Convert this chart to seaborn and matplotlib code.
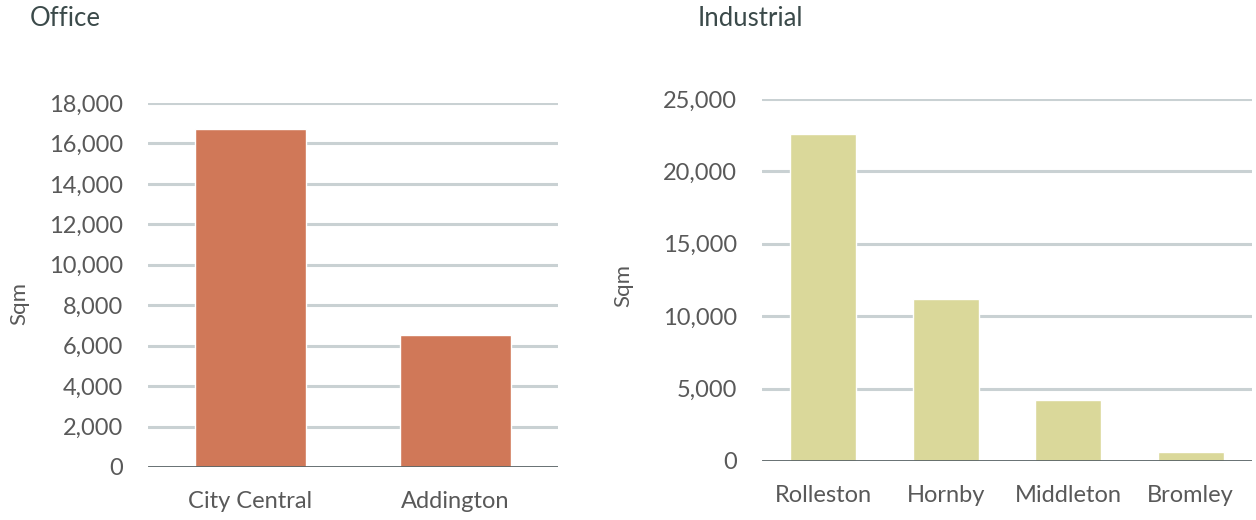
import matplotlib
matplotlib.use("Agg")
import matplotlib.pyplot as plt
import seaborn as sns
import pandas as pd
from matplotlib.ticker import FuncFormatter

office_categories = ["City Central", "Addington"]
office_values = [16700, 6550]
industrial_categories = ["Rolleston", "Hornby", "Middleton", "Bromley"]
industrial_values = [22600, 11200, 4200, 600]
office_ticks = list(range(0, 18001, 2000))
industrial_ticks = list(range(0, 25001, 5000))

sns.set_theme(style="white")
plt.rcParams['font.family'] = ['Lato', 'DejaVu Sans']

fig = plt.figure(figsize=(12.56, 5.2), dpi=100)
text_color = "#595959"
grid_color = "#C9D1D3"
base_color = "#5A6466"
title_color = "#3B4A4A"

def style(ax, ticks, ylim):
    ax.set_ylim(0, ylim)
    ax.set_yticks(ticks)
    ax.yaxis.set_major_formatter(FuncFormatter(lambda v, p: f"{int(v):,}"))
    for t in ticks[1:]:
        ax.axhline(t, color=grid_color, lw=2.2, zorder=0)
    ax.axhline(0, color=base_color, lw=2, zorder=3)
    for s in ax.spines.values():
        s.set_visible(False)
    ax.tick_params(axis="both", length=0, labelsize=17, colors=text_color)
    ax.tick_params(axis="y", pad=18)
    ax.tick_params(axis="x", pad=17)
    ax.set_xlabel("")
    ax.set_ylabel("Sqm", fontsize=16, color=text_color)

ax1 = fig.add_axes([0.1178, 0.102, 0.3265, 0.700])
df1 = pd.DataFrame({"cat": office_categories, "val": office_values})
sns.barplot(data=df1, x="cat", y="val", color="#D07858", saturation=1, width=0.54, ax=ax1, zorder=2)
style(ax1, office_ticks, 18000)
ax1.yaxis.set_label_coords(-0.29, 0.45)

ax2 = fig.add_axes([0.6067, 0.1135, 0.390, 0.696])
df2 = pd.DataFrame({"cat": industrial_categories, "val": industrial_values})
sns.barplot(data=df2, x="cat", y="val", color="#DAD89A", saturation=1, width=0.54, ax=ax2, zorder=2)
style(ax2, industrial_ticks, 25000)
ax2.yaxis.set_label_coords(-0.263, 0.486)

fig.text(30/1256, 1-18/520, "Office", fontsize=18.5, color=title_color, va="center", ha="left")
fig.text(698/1256, 1-18/520, "Industrial", fontsize=18.5, color=title_color, va="center", ha="left")

fig.savefig("out.png", dpi=100)
